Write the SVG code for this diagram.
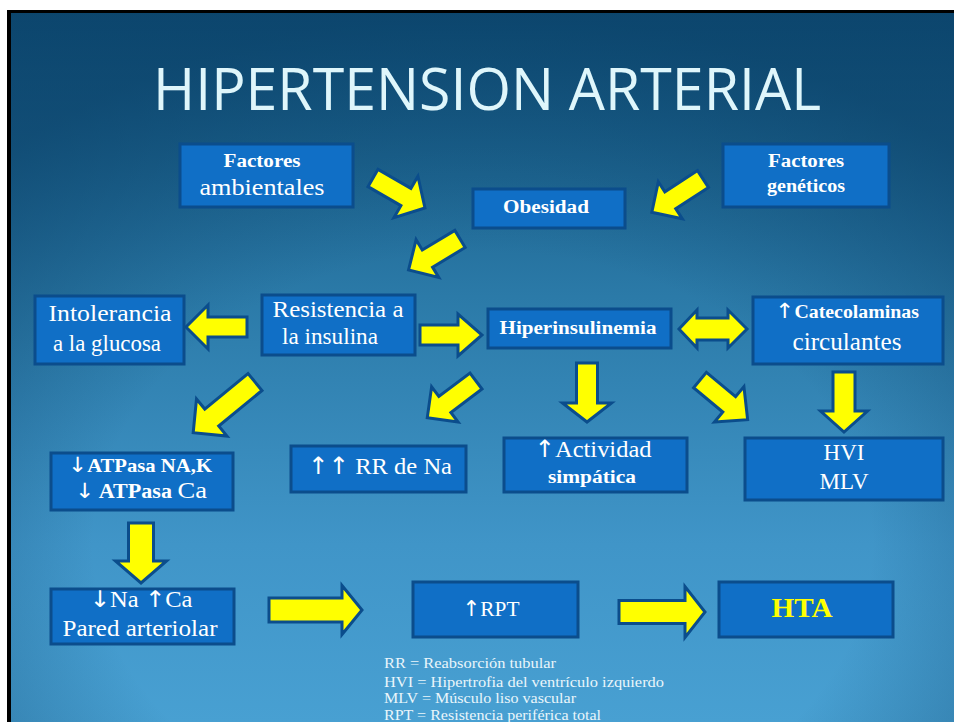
<svg xmlns="http://www.w3.org/2000/svg" width="954" height="722" viewBox="0 0 954 722">
<defs>
<linearGradient id="bg" x1="0" y1="0" x2="0" y2="1">
<stop offset="0" stop-color="#0f5079"/>
<stop offset="0.4" stop-color="#2b7aa8"/>
<stop offset="0.75" stop-color="#4095c8"/>
<stop offset="1" stop-color="#48a0d2"/>
</linearGradient>
<radialGradient id="vig" cx="0.5" cy="0.75" r="0.75">
<stop offset="0.55" stop-color="#0a3f66" stop-opacity="0"/>
<stop offset="1" stop-color="#0a3f66" stop-opacity="0.6"/>
</radialGradient>
</defs>
<style>
.box{fill:#106fc6;stroke:#0b4d8c;stroke-width:3}
.arrow{fill:#ffff00;stroke:#0b4d8c;stroke-width:3;stroke-linejoin:miter}
.t{font-family:"Liberation Serif","DejaVu Serif",serif;fill:#ffffff;text-anchor:middle}
.b{font-weight:bold}
.ar{font-family:"DejaVu Sans",sans-serif;font-weight:normal}
.leg{font-family:"Liberation Serif",serif;fill:#eaf6fb;font-size:15.5px}
</style>
<rect x="0" y="0" width="954" height="722" fill="#ffffff"/>
<rect x="7" y="10" width="947" height="712" fill="#000000"/>
<rect x="11" y="13" width="943" height="709" fill="url(#bg)"/>
<rect x="11" y="13" width="943" height="709" fill="url(#vig)"/>
<text x="487" y="110" font-family="Open Sans, Noto Sans, sans-serif" font-size="58" fill="#dff6fb" text-anchor="middle" textLength="668" lengthAdjust="spacingAndGlyphs">HIPERTENSION ARTERIAL</text>

<g id="connectors">
<polygon class="arrow" points="0,-10 38,-10 38,-24 60,0 38,24 38,10 0,10" transform="translate(373,178) rotate(30)"/>
<polygon class="arrow" points="0,-10 38,-10 38,-22 60,0 38,22 38,10 0,10" transform="translate(460,239) rotate(149)"/>
<polygon class="arrow" points="0,-10 39,-10 39,-22 61,0 39,22 39,10 0,10" transform="translate(703,179) rotate(147)"/>
<polygon class="arrow" points="0,-10 39,-10 39,-22 61,0 39,22 39,10 0,10" transform="translate(247,327) rotate(180)"/>
<polygon class="arrow" points="0,-10 38,-10 38,-21 62,0 38,21 38,10 0,10" transform="translate(420,335)"/>
<polygon class="arrow" points="679,329 697,310 697,318 728,318 728,310 747,329 728,348 728,340 697,340 697,348"/>
<polygon class="arrow" points="0,-11 56,-11 56,-24 80,0 56,24 56,11 0,11" transform="translate(255,382) rotate(140.6)"/>
<polygon class="arrow" points="0,-10 39,-10 39,-22 61,0 39,22 39,10 0,10" transform="translate(476,381) rotate(143)"/>
<polygon class="arrow" points="0,-10.5 40,-10.5 40,-24.5 59,0 40,24.5 40,10.5 0,10.5" transform="translate(587,363) rotate(90)"/>
<polygon class="arrow" points="0,-10 38,-10 38,-23 62,0 38,23 38,10 0,10" transform="translate(700,380) rotate(39.8)"/>
<polygon class="arrow" points="0,-11 39,-11 39,-23.5 60,0 39,23.5 39,11 0,11" transform="translate(844,372) rotate(90)"/>
<polygon class="arrow" points="0,-12.5 38,-12.5 38,-25.5 60,0 38,25.5 38,12.5 0,12.5" transform="translate(141,523) rotate(90)"/>
<polygon class="arrow" points="0,-12 73,-12 73,-24.5 93,0 73,24.5 73,12 0,12" transform="translate(269,610)"/>
<polygon class="arrow" points="0,-11.5 66,-11.5 66,-25.5 86,0 66,25.5 66,11.5 0,11.5" transform="translate(619,612)"/>
</g>

<g id="factores-ambientales">
<rect class="box" x="180" y="144" width="173" height="63"/>
<text class="t b" x="262" y="167" font-size="18" textLength="77" lengthAdjust="spacingAndGlyphs">Factores</text>
<text class="t" x="262" y="195" font-size="24" textLength="125" lengthAdjust="spacingAndGlyphs">ambientales</text>
</g>
<g id="obesidad">
<rect class="box" x="473" y="189" width="152" height="39"/>
<text class="t b" x="546" y="213" font-size="18" textLength="86" lengthAdjust="spacingAndGlyphs">Obesidad</text>
</g>
<g id="factores-geneticos">
<rect class="box" x="723" y="144" width="166" height="63"/>
<text class="t b" x="806" y="167" font-size="18" textLength="76" lengthAdjust="spacingAndGlyphs">Factores</text>
<text class="t b" x="806" y="192" font-size="18" textLength="78" lengthAdjust="spacingAndGlyphs">genéticos</text>
</g>
<g id="intolerancia">
<rect class="box" x="35" y="296" width="149" height="68"/>
<text class="t" x="110" y="321" font-size="24" textLength="123" lengthAdjust="spacingAndGlyphs">Intolerancia</text>
<text class="t" x="107" y="351" font-size="24" textLength="108" lengthAdjust="spacingAndGlyphs">a la glucosa</text>
</g>
<g id="resistencia">
<rect class="box" x="262" y="295" width="153" height="60"/>
<text class="t" x="338" y="317" font-size="23" textLength="131" lengthAdjust="spacingAndGlyphs">Resistencia a</text>
<text class="t" x="330" y="344" font-size="23" textLength="96" lengthAdjust="spacingAndGlyphs">la insulina</text>
</g>
<g id="hiperinsulinemia">
<rect class="box" x="488" y="309" width="183" height="39"/>
<text class="t b" x="578" y="334" font-size="18" textLength="157" lengthAdjust="spacingAndGlyphs">Hiperinsulinemia</text>
</g>
<g id="catecolaminas">
<rect class="box" x="753" y="297" width="190" height="67"/>
<text class="t b" x="847" y="318" font-size="18" textLength="144" lengthAdjust="spacingAndGlyphs"><tspan class="ar" font-size="21">↑</tspan>Catecolaminas</text>
<text class="t" x="847" y="350" font-size="25" textLength="109" lengthAdjust="spacingAndGlyphs">circulantes</text>
</g>
<g id="atpasa">
<rect class="box" x="51" y="453" width="182" height="57"/>
<text class="t b" x="140" y="472" font-size="19" textLength="144" lengthAdjust="spacingAndGlyphs"><tspan class="ar" font-size="21">↓</tspan>ATPasa NA,K</text>
<text class="t b" x="141" y="498" font-size="20" textLength="132" lengthAdjust="spacingAndGlyphs"><tspan class="ar" font-size="21">↓</tspan> ATPasa  <tspan font-size="24" font-weight="normal">Ca</tspan></text>
</g>
<g id="rr-na">
<rect class="box" x="291" y="446" width="175" height="46"/>
<text class="t" x="380" y="474" font-size="24" textLength="144" lengthAdjust="spacingAndGlyphs"><tspan class="ar">↑↑</tspan> RR de Na</text>
</g>
<g id="actividad">
<rect class="box" x="504" y="438" width="183" height="54"/>
<text class="t" x="593" y="457" font-size="24" textLength="117" lengthAdjust="spacingAndGlyphs"><tspan class="ar">↑</tspan>Actividad</text>
<text class="t b" x="592" y="483" font-size="18" textLength="88" lengthAdjust="spacingAndGlyphs">simpática</text>
</g>
<g id="hvi-mlv">
<rect class="box" x="745" y="438" width="198" height="62"/>
<text class="t" x="844" y="460" font-size="23">HVI</text>
<text class="t" x="844" y="489" font-size="23">MLV</text>
</g>
<g id="na-ca">
<rect class="box" x="51" y="589" width="183" height="55"/>
<text class="t" x="141" y="607" font-size="23" textLength="103" lengthAdjust="spacingAndGlyphs"><tspan class="ar">↓</tspan>Na <tspan class="ar">↑</tspan>Ca</text>
<text class="t" x="140" y="636" font-size="23" textLength="155" lengthAdjust="spacingAndGlyphs">Pared arteriolar</text>
</g>
<g id="rpt">
<rect class="box" x="413" y="582" width="165" height="55"/>
<text class="t" x="491" y="616" font-size="22" textLength="57" lengthAdjust="spacingAndGlyphs"><tspan class="ar">↑</tspan>RPT</text>
</g>
<g id="hta">
<rect class="box" x="719" y="582" width="174" height="55"/>
<text class="t b" x="802" y="617" font-size="27" style="fill:#ffff00" textLength="61" lengthAdjust="spacingAndGlyphs">HTA</text>
</g>
<g id="legend">
<text class="leg" x="384" y="668" textLength="172" lengthAdjust="spacingAndGlyphs">RR = Reabsorción tubular</text>
<text class="leg" x="384" y="687" textLength="280" lengthAdjust="spacingAndGlyphs">HVI = Hipertrofia del ventrículo izquierdo</text>
<text class="leg" x="384" y="703" textLength="192" lengthAdjust="spacingAndGlyphs">MLV = Músculo liso vascular</text>
<text class="leg" x="384" y="720" textLength="217" lengthAdjust="spacingAndGlyphs">RPT = Resistencia periférica total</text>
</g>
</svg>
